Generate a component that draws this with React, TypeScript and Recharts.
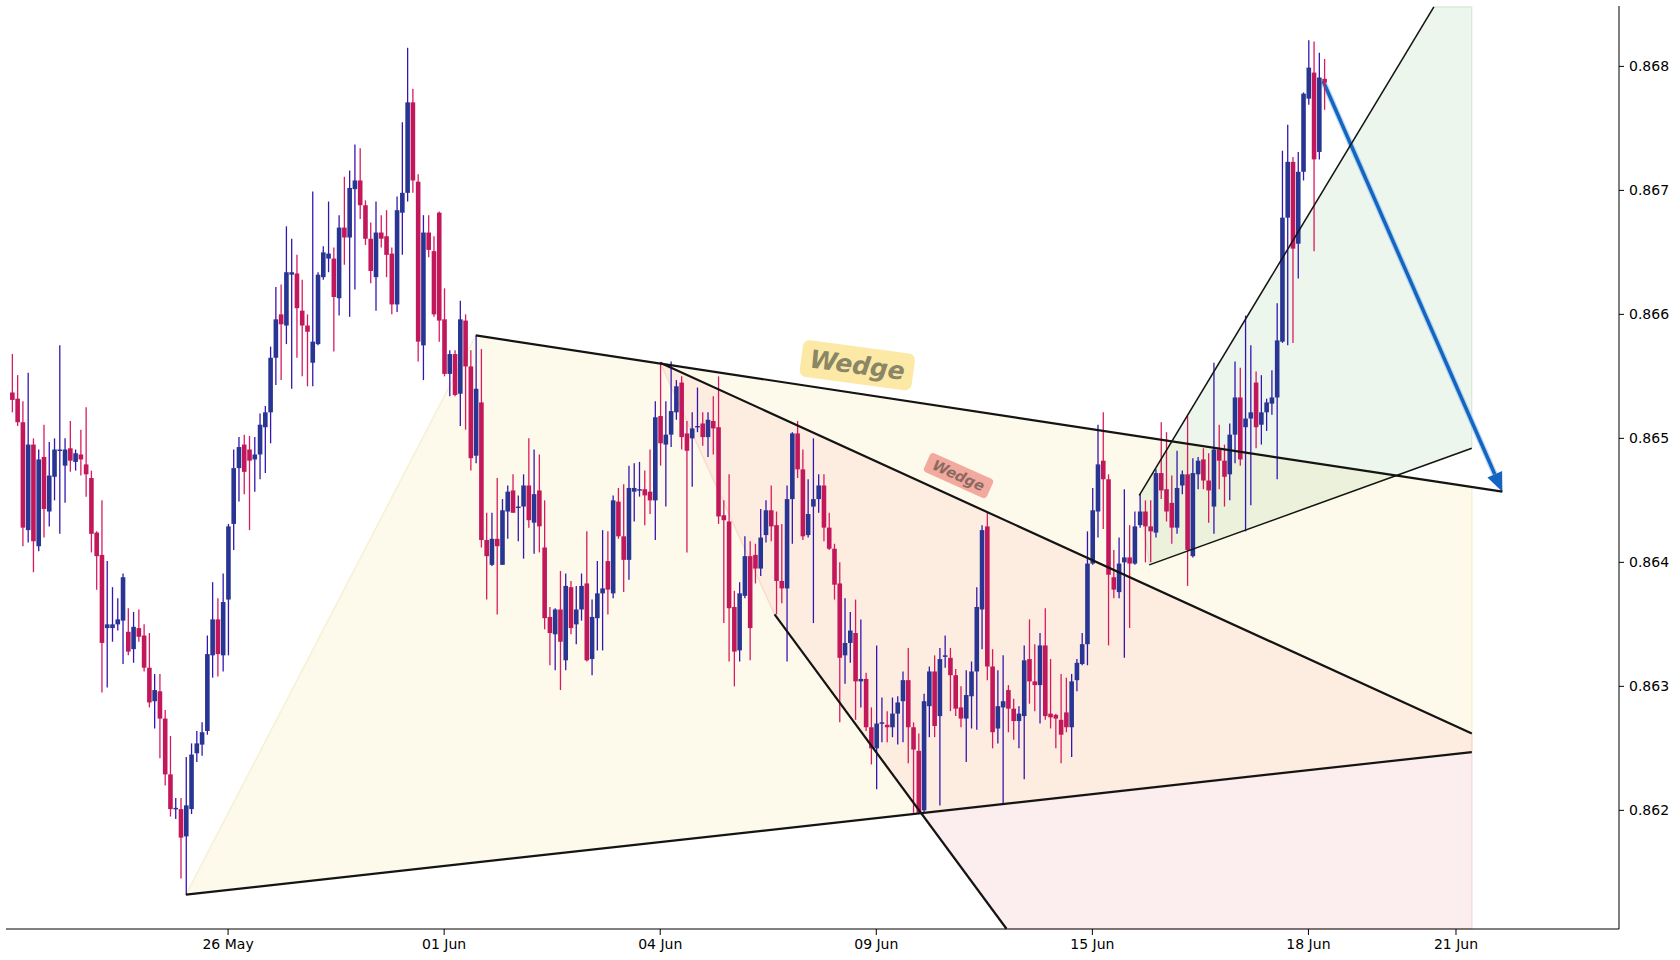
import { Bar, ComposedChart, ReferenceArea, ReferenceDot, ReferenceLine, XAxis, YAxis } from "recharts";

// EUR/GBP-style bars, one per index
const opens = [
  0.86537, 0.86532, 0.86513, 0.86426, 0.86495, 0.86413, 0.86485, 0.86441, 0.86469, 0.8649,
  0.86478, 0.86492, 0.86481, 0.86487, 0.86479, 0.86468, 0.86424, 0.86406, 0.86347, 0.86347,
  0.8635, 0.86353, 0.86344, 0.8633, 0.86347, 0.86341, 0.86315, 0.86288, 0.86296, 0.86274,
  0.86229, 0.86201, 0.86201, 0.86179, 0.86201, 0.86246, 0.86253, 0.86264, 0.86325, 0.86354,
  0.86325, 0.8637, 0.86431, 0.86476, 0.86495, 0.86491, 0.86483, 0.86487, 0.86509, 0.86521,
  0.86565, 0.866, 0.86591, 0.86632, 0.86633, 0.86603, 0.86591, 0.86561, 0.86576, 0.8663,
  0.86645, 0.86645, 0.86613, 0.8667, 0.86662, 0.86701, 0.86708, 0.86688, 0.86661, 0.8663,
  0.86666, 0.86663, 0.86649, 0.86608, 0.86682, 0.86698, 0.86771, 0.86707, 0.86575, 0.86666,
  0.86651, 0.86682, 0.86596, 0.86552, 0.86568, 0.86536, 0.86595, 0.86558, 0.86486, 0.86529,
  0.86418, 0.86398, 0.86419, 0.86398, 0.86441, 0.86458, 0.86444, 0.86445, 0.86462, 0.86432,
  0.86458, 0.86412, 0.86356, 0.86342, 0.86362, 0.86321, 0.8638, 0.8635, 0.86362, 0.86383,
  0.86322, 0.86355, 0.86375, 0.86401, 0.86375, 0.86449, 0.86421, 0.86402, 0.86457, 0.86458,
  0.86459, 0.86457, 0.8645, 0.86518, 0.86495, 0.86503, 0.86521, 0.86545, 0.86504, 0.865,
  0.86509, 0.86512, 0.86501, 0.86514, 0.86509, 0.86438, 0.86433, 0.86364, 0.86329, 0.86373,
  0.86405, 0.86406, 0.86395, 0.86422, 0.86442, 0.8643, 0.86385, 0.86379, 0.86451, 0.86504,
  0.86475, 0.86422, 0.86445, 0.86451, 0.86462, 0.86428, 0.86411, 0.86383, 0.86325, 0.86335,
  0.86343, 0.86304, 0.86306, 0.86267, 0.8625, 0.8627, 0.86269, 0.86267, 0.86278, 0.86288,
  0.86305, 0.86267, 0.86248, 0.862, 0.86284, 0.86312, 0.86276, 0.86324, 0.86323, 0.86309,
  0.86283, 0.86274, 0.86292, 0.86312, 0.86362, 0.86429, 0.86316, 0.86266, 0.86283, 0.86297,
  0.86282, 0.86272, 0.86276, 0.86322, 0.86304, 0.86301, 0.86333, 0.86278, 0.86277, 0.86273,
  0.86279, 0.86267, 0.86305, 0.86318, 0.86334, 0.86399, 0.86441, 0.86482, 0.86467, 0.86388,
  0.86376, 0.864, 0.86404, 0.86399, 0.8643, 0.86441, 0.86429, 0.86424, 0.86472, 0.86459,
  0.86448, 0.86428, 0.86462, 0.86471, 0.86405, 0.86471, 0.86483, 0.86466, 0.86445, 0.86491,
  0.86482, 0.86471, 0.86503, 0.86533, 0.86509, 0.86516, 0.86545, 0.86511, 0.86521, 0.86528,
  0.86533, 0.86578, 0.86678, 0.86723, 0.86657, 0.86715, 0.86774, 0.86795, 0.86731, 0.8679,
];

const highs = [
  0.86568, 0.86551, 0.8653, 0.86553, 0.865, 0.86491, 0.86511, 0.86497, 0.865, 0.86575,
  0.865, 0.86514, 0.86491, 0.86507, 0.86525, 0.86474, 0.86425, 0.8645, 0.86401, 0.8638,
  0.86371, 0.86391, 0.86363, 0.8636, 0.86362, 0.8635, 0.86343, 0.8631, 0.8631, 0.86281,
  0.8626, 0.8621, 0.8621, 0.86243, 0.86254, 0.86264, 0.86271, 0.86341, 0.86384, 0.86371,
  0.86391, 0.86431, 0.86491, 0.86501, 0.86503, 0.86502, 0.86501, 0.8652, 0.86526, 0.86574,
  0.86622, 0.86624, 0.86671, 0.86661, 0.86648, 0.86628, 0.866, 0.86699, 0.86634, 0.86655,
  0.86691, 0.86654, 0.8668, 0.86711, 0.86716, 0.86737, 0.86734, 0.86692, 0.86674, 0.86691,
  0.8668, 0.86684, 0.86654, 0.86695, 0.86755, 0.86815, 0.86782, 0.86713, 0.8668, 0.8668,
  0.86663, 0.86683, 0.86621, 0.86571, 0.86571, 0.86611, 0.866, 0.86571, 0.86583, 0.86572,
  0.8644, 0.8644, 0.86468, 0.86451, 0.86462, 0.86471, 0.86454, 0.86471, 0.865, 0.86491,
  0.86487, 0.8645, 0.86364, 0.86363, 0.86393, 0.86391, 0.86385, 0.86381, 0.86391, 0.86425,
  0.8637, 0.86401, 0.86426, 0.86425, 0.86454, 0.8646, 0.86463, 0.86478, 0.8648, 0.86481,
  0.86474, 0.86491, 0.8653, 0.86561, 0.8653, 0.86562, 0.86547, 0.8655, 0.86514, 0.86521,
  0.86541, 0.86521, 0.86521, 0.86534, 0.8655, 0.8645, 0.86471, 0.86377, 0.86384, 0.86421,
  0.86417, 0.86415, 0.86443, 0.8645, 0.86462, 0.86441, 0.86431, 0.86462, 0.86505, 0.86514,
  0.86491, 0.86467, 0.865, 0.86471, 0.86471, 0.8644, 0.86415, 0.864, 0.86371, 0.8636,
  0.8637, 0.86354, 0.86311, 0.86283, 0.86333, 0.86291, 0.8628, 0.86291, 0.86292, 0.86312,
  0.86331, 0.86271, 0.86262, 0.86294, 0.86316, 0.86325, 0.86331, 0.86341, 0.86331, 0.86314,
  0.863, 0.86313, 0.8632, 0.8638, 0.8643, 0.8644, 0.8633, 0.86313, 0.86325, 0.86301,
  0.8629, 0.86284, 0.86333, 0.86354, 0.86334, 0.86343, 0.86363, 0.86322, 0.86278, 0.8631,
  0.86307, 0.8631, 0.86322, 0.86343, 0.86425, 0.8646, 0.86511, 0.86521, 0.86471, 0.8641,
  0.8642, 0.86459, 0.8643, 0.86441, 0.86455, 0.8645, 0.8645, 0.86475, 0.86513, 0.86505,
  0.8647, 0.8649, 0.86474, 0.86518, 0.86484, 0.86485, 0.86492, 0.86488, 0.86561, 0.86511,
  0.86495, 0.86512, 0.86562, 0.86557, 0.86599, 0.86575, 0.86554, 0.86551, 0.86532, 0.86555,
  0.86609, 0.86732, 0.86753, 0.86727, 0.86731, 0.86779, 0.86821, 0.8682, 0.86811, 0.86806,
];

const lows = [
  0.86521, 0.8651, 0.86413, 0.86416, 0.86392, 0.86409, 0.8642, 0.86429, 0.8645, 0.86423,
  0.86448, 0.86473, 0.86474, 0.8647, 0.86453, 0.86408, 0.86378, 0.86295, 0.86299, 0.86336,
  0.86345, 0.86318, 0.86325, 0.86319, 0.86336, 0.86312, 0.86283, 0.86266, 0.86242, 0.8622,
  0.86195, 0.86193, 0.86145, 0.86132, 0.86197, 0.86239, 0.86244, 0.86261, 0.86307, 0.86308,
  0.86312, 0.86325, 0.8641, 0.86449, 0.86455, 0.86426, 0.86457, 0.86467, 0.86472, 0.86496,
  0.86543, 0.86547, 0.86576, 0.8654, 0.86565, 0.8655, 0.86542, 0.86542, 0.86575, 0.86628,
  0.86634, 0.8657, 0.86599, 0.8664, 0.86598, 0.8662, 0.86677, 0.86656, 0.86625, 0.86603,
  0.86654, 0.8663, 0.866, 0.86602, 0.86648, 0.86691, 0.86698, 0.86562, 0.86547, 0.86646,
  0.86598, 0.86578, 0.8655, 0.86534, 0.86534, 0.8651, 0.86507, 0.86474, 0.8648, 0.86412,
  0.8637, 0.86397, 0.86358, 0.86398, 0.86419, 0.8644, 0.86417, 0.86403, 0.86428, 0.86407,
  0.86408, 0.86346, 0.86317, 0.86313, 0.86297, 0.86313, 0.86342, 0.86334, 0.86353, 0.8632,
  0.86309, 0.86329, 0.86329, 0.86358, 0.86371, 0.86419, 0.86376, 0.86386, 0.86433, 0.86453,
  0.8643, 0.86439, 0.86418, 0.86478, 0.86445, 0.86493, 0.86515, 0.86491, 0.86408, 0.86461,
  0.86505, 0.86494, 0.86485, 0.86487, 0.86431, 0.86351, 0.8632, 0.863, 0.8632, 0.86371,
  0.86321, 0.86383, 0.86389, 0.86416, 0.86417, 0.86358, 0.86367, 0.8632, 0.86415, 0.86468,
  0.86418, 0.8642, 0.86351, 0.8644, 0.86417, 0.8641, 0.8637, 0.86271, 0.86302, 0.86319,
  0.86273, 0.86283, 0.86264, 0.86237, 0.86217, 0.86255, 0.86255, 0.86259, 0.86253, 0.86255,
  0.86238, 0.86198, 0.86197, 0.86198, 0.86259, 0.86259, 0.86204, 0.86315, 0.8628, 0.86276,
  0.86267, 0.86239, 0.86266, 0.86265, 0.8633, 0.86305, 0.8625, 0.86254, 0.86206, 0.86263,
  0.86257, 0.8625, 0.86225, 0.86286, 0.8628, 0.8627, 0.86273, 0.86266, 0.8625, 0.86238,
  0.86263, 0.86243, 0.86296, 0.86317, 0.86317, 0.86398, 0.8642, 0.86427, 0.86333, 0.86371,
  0.86371, 0.86323, 0.86347, 0.86398, 0.86428, 0.864, 0.864, 0.8642, 0.86451, 0.86433,
  0.86415, 0.86423, 0.86455, 0.86381, 0.86404, 0.86459, 0.86459, 0.86432, 0.86423, 0.86459,
  0.86445, 0.8645, 0.8648, 0.86478, 0.86425, 0.86446, 0.86492, 0.86495, 0.86506, 0.86519,
  0.86467, 0.86577, 0.86575, 0.86577, 0.86629, 0.86708, 0.86769, 0.86651, 0.86725, 0.86765,
];

const closes = [
  0.86531, 0.86513, 0.86428, 0.86495, 0.86417, 0.86483, 0.86443, 0.8647, 0.86491, 0.86491,
  0.86491, 0.86482, 0.86488, 0.86483, 0.86471, 0.86423, 0.86405, 0.86335, 0.8635, 0.8635,
  0.86354, 0.86388, 0.86328, 0.86348, 0.8634, 0.86315, 0.86287, 0.86297, 0.86274, 0.86229,
  0.86201, 0.86202, 0.86178, 0.86204, 0.86245, 0.86254, 0.86263, 0.86326, 0.86354, 0.86326,
  0.86368, 0.86429, 0.86476, 0.86493, 0.86473, 0.86482, 0.86487, 0.86511, 0.86521, 0.86565,
  0.86596, 0.86592, 0.86634, 0.86634, 0.86605, 0.86591, 0.86586, 0.86578, 0.86632, 0.8665,
  0.86649, 0.86614, 0.8667, 0.86662, 0.86702, 0.86708, 0.86688, 0.86661, 0.86635, 0.86666,
  0.86661, 0.86648, 0.86608, 0.86684, 0.86698, 0.86771, 0.86708, 0.86578, 0.86666, 0.86652,
  0.866, 0.86595, 0.86552, 0.86568, 0.86535, 0.86596, 0.86558, 0.86484, 0.8654, 0.86418,
  0.86405, 0.86419, 0.86413, 0.86442, 0.86457, 0.8644, 0.86445, 0.86462, 0.86434, 0.86455,
  0.86429, 0.86355, 0.86343, 0.86362, 0.86336, 0.86381, 0.86347, 0.86362, 0.86381, 0.86321,
  0.86356, 0.86375, 0.86379, 0.86378, 0.8645, 0.86421, 0.86402, 0.8646, 0.8646, 0.86459,
  0.86454, 0.8645, 0.86517, 0.86496, 0.86503, 0.86522, 0.86542, 0.86501, 0.8649, 0.86508,
  0.8651, 0.86501, 0.86515, 0.86508, 0.86437, 0.86434, 0.86363, 0.86328, 0.86375, 0.86405,
  0.86347, 0.86395, 0.8642, 0.86442, 0.86429, 0.86385, 0.86379, 0.86451, 0.86504, 0.86475,
  0.86421, 0.86439, 0.86451, 0.86462, 0.86428, 0.86411, 0.86382, 0.86323, 0.86335, 0.86345,
  0.86304, 0.86306, 0.86267, 0.8625, 0.8627, 0.86271, 0.86267, 0.86278, 0.86287, 0.86305,
  0.86267, 0.86249, 0.86198, 0.86288, 0.86312, 0.86268, 0.86322, 0.86325, 0.86309, 0.86282,
  0.86274, 0.86293, 0.86312, 0.86364, 0.86426, 0.86316, 0.86263, 0.86284, 0.86288, 0.86282,
  0.86272, 0.86278, 0.86321, 0.86304, 0.86301, 0.86333, 0.86276, 0.86275, 0.86274, 0.86261,
  0.86267, 0.86304, 0.86319, 0.86334, 0.86399, 0.86442, 0.86479, 0.86467, 0.8639, 0.86378,
  0.86399, 0.86404, 0.86399, 0.86429, 0.86441, 0.86429, 0.86425, 0.86472, 0.86458, 0.86441,
  0.86428, 0.8646, 0.86471, 0.8641, 0.86472, 0.86482, 0.86466, 0.86458, 0.86491, 0.86482,
  0.86469, 0.86503, 0.86533, 0.86483, 0.86516, 0.86521, 0.86509, 0.86521, 0.86529, 0.86533,
  0.86579, 0.86678, 0.86723, 0.86653, 0.86715, 0.86778, 0.86799, 0.86725, 0.86791, 0.86787,
];

const tickIdx = [41, 82, 123, 164, 205, 246, 274];
const tickLabels = ["26 May", "01 Jun", "04 Jun", "09 Jun", "15 Jun", "18 Jun", "21 Jun"];
const priceTicks = [0.862, 0.863, 0.864, 0.865, 0.866, 0.867, 0.868];

// pattern zones as [bar index, price] vertices
const bigWedgeZone = [[33, 0.86132], [88, 0.86583], [277, 0.86461], [277, 0.86247]];
const innerWedgeZone = [[123, 0.86561], [144.7, 0.86358], [172.5, 0.86197], [277, 0.86247], [277, 0.86262]];
const breakZone = [[172.5, 0.86197], [188.7, 0.861045], [277, 0.861045], [277, 0.86247]];
const risingWedgeZone = [[213.9, 0.86454], [269.8, 0.86848], [277, 0.86848], [277, 0.86492], [215.8, 0.86398]];

// trend lines: [x1, y1, x2, y2]
const heavyLines = [
  [88, 0.86583, 282.8, 0.86457],
  [33, 0.86132, 277, 0.86247],
  [123, 0.86561, 277, 0.86262],
  [144.7, 0.86358, 188.7, 0.861045],
];
const thinLines = [
  [213.9, 0.86454, 269.8, 0.86848],
  [215.8, 0.86398, 277, 0.86492],
];
const arrowFrom = [248.8, 0.86788];
const arrowTo = [282.8, 0.86457];

const bigLabelAt = [160.4, 0.86559];
const smallLabelAt = [179.6, 0.8647];

const data = opens.map((o, i) => ({ i, o, h: highs[i], l: lows[i], c: closes[i], range: [lows[i], highs[i]] }));

const FONT = "DejaVu Sans";

const Candle = (props: any) => {
  const { x, y, width, height, payload } = props;
  if (x == null || y == null) return null;
  const top = Math.min(y, y + height);
  const bottom = Math.max(y, y + height);
  const span = payload.h - payload.l || 1e-9;
  const toPx = (v: number) => top + ((payload.h - v) / span) * (bottom - top);
  const up = payload.c >= payload.o;
  const cx = x + width / 2;
  const bTop = toPx(Math.max(payload.o, payload.c));
  const bBot = toPx(Math.min(payload.o, payload.c));
  return (
    <g>
      <line x1={cx} x2={cx} y1={top} y2={bottom} stroke={up ? "#3517b0" : "#d81b60"} strokeWidth={1.3} />
      <rect x={cx - 2.3} y={bTop} width={4.6} height={Math.max(1.5, bBot - bTop)} fill={up ? "#283593" : "#c2185b"} />
    </g>
  );
};

function zone(pts: number[][], fill: string, edge: string, key: string) {
  const xs = pts.map((p) => p[0]);
  const ys = pts.map((p) => p[1]);
  const xa = Math.min(...xs), xb = Math.max(...xs), ya = Math.min(...ys), yb = Math.max(...ys);
  return (
    <ReferenceArea
      key={key}
      x1={xa}
      x2={xb}
      y1={ya}
      y2={yb}
      shape={(r: any) => {
        const d = pts
          .map(([px, py]) => `${r.x + ((px - xa) / (xb - xa)) * r.width},${r.y + ((yb - py) / (yb - ya)) * r.height}`)
          .join(" ");
        return <polygon points={d} fill={fill} stroke={edge} strokeWidth={1.5} />;
      }}
    />
  );
}

const Arrow = (r: any) => {
  const x0 = r.x, y0 = r.y, x1 = r.x + r.width, y1 = r.y + r.height;
  const a = Math.atan2(y1 - y0, x1 - x0);
  const len = 19, half = 8;
  const bx = x1 - len * Math.cos(a), by = y1 - len * Math.sin(a);
  const nx = -Math.sin(a) * half, ny = Math.cos(a) * half;
  return (
    <g>
      <line x1={x0} y1={y0} x2={bx} y2={by} stroke="#90c2f0" strokeWidth={6} strokeOpacity={0.6} />
      <line x1={x0} y1={y0} x2={bx} y2={by} stroke="#1565c0" strokeWidth={3.5} />
      <polygon points={`${x1},${y1} ${bx + nx},${by + ny} ${bx - nx},${by - ny}`} fill="#1565c0" />
    </g>
  );
};

const tag = (text: string, angle: number, w: number, h: number, size: number, box: string, ink: string) => (p: any) => (
  <g transform={`translate(${p.cx},${p.cy}) rotate(${angle})`}>
    <rect x={-w / 2} y={-h / 2} width={w} height={h} rx={h * 0.18} fill={box} />
    <text
      x={0}
      y={0}
      textAnchor="middle"
      dominantBaseline="central"
      fontFamily={FONT}
      fontSize={size}
      fontWeight="bold"
      fontStyle="italic"
      fill={ink}
    >
      {text}
    </text>
  </g>
);

export default function App() {
  return (
    <div style={{ position: "absolute", left: 0, top: 0, background: "#fff" }}>
      <ComposedChart width={1680} height={960} data={data} margin={{ top: 6, left: 6, right: 0, bottom: 0 }}>
        <XAxis
          dataKey="i"
          type="number"
          domain={[-1.1385, 304.93]}
          allowDataOverflow
          ticks={tickIdx}
          tickFormatter={(v: number) => tickLabels[tickIdx.indexOf(v)] ?? ""}
          height={31}
          tickSize={6}
          tickMargin={4}
          stroke="#000"
          tick={{ fill: "#000", fontSize: 14, fontFamily: FONT }}
        />
        <YAxis
          orientation="right"
          type="number"
          domain={[0.861043, 0.868487]}
          allowDataOverflow
          ticks={priceTicks}
          tickFormatter={(v: number) => v.toFixed(3)}
          width={61}
          tickSize={5}
          tickMargin={5}
          stroke="#000"
          tick={{ fill: "#000", fontSize: 14, fontFamily: FONT }}
        />
        {zone(bigWedgeZone, "#fdfaec", "#f7f0d3", "z1")}
        {zone(innerWedgeZone, "#fdede1", "#f8dccc", "z2")}
        {zone(breakZone, "#fcedee", "#f7dcdd", "z3")}
        {zone(risingWedgeZone, "rgba(0,128,0,0.07)", "rgba(0,110,0,0.1)", "z4")}
        <Bar dataKey="range" barSize={4} shape={Candle} isAnimationActive={false} />
        {heavyLines.map((s, k) => (
          <ReferenceLine
            key={`h${k}`}
            segment={[{ x: s[0], y: s[1] }, { x: s[2], y: s[3] }]}
            stroke="#141414"
            strokeWidth={2.2}
          />
        ))}
        {thinLines.map((s, k) => (
          <ReferenceLine
            key={`t${k}`}
            segment={[{ x: s[0], y: s[1] }, { x: s[2], y: s[3] }]}
            stroke="#141414"
            strokeWidth={1.5}
          />
        ))}
        <ReferenceArea x1={arrowFrom[0]} x2={arrowTo[0]} y1={arrowTo[1]} y2={arrowFrom[1]} shape={Arrow} />
        <ReferenceDot
          x={bigLabelAt[0]}
          y={bigLabelAt[1]}
          r={1}
          shape={tag("Wedge", 7.6, 113, 37, 25, "#fce9a6", "#8a8666")}
        />
        <ReferenceDot
          x={smallLabelAt[0]}
          y={smallLabelAt[1]}
          r={1}
          shape={tag("Wedge", 24.1, 69, 21, 14.5, "#f2aa9e", "#8c6a63")}
        />
      </ComposedChart>
    </div>
  );
}
